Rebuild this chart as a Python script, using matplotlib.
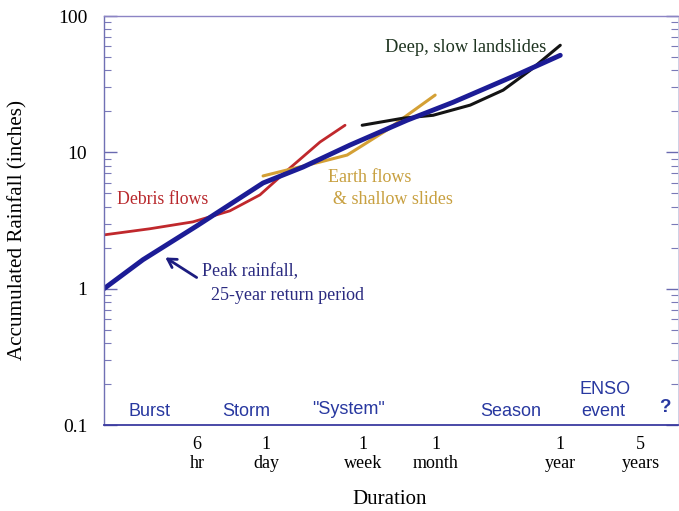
import numpy as np
import matplotlib
matplotlib.use("Agg")
import matplotlib.pyplot as plt

# durations in hours, rainfall in inches
peak_hr = [0.93, 2.03, 6.0, 13.4, 22.6, 50.4, 129, 406, 1023, 3930, 8770]
peak_in = [1.0, 1.63, 2.89, 4.48, 5.96, 7.8, 11.3, 17.2, 23.3, 38.0, 51.5]

debris_hr = [0.93, 2.33, 5.53, 11.6, 21.2, 38.8, 70.8, 117]
debris_in = [2.48, 2.75, 3.09, 3.72, 4.87, 7.68, 11.9, 15.8]

earth_hr = [22.6, 36.5, 70.8, 122, 168, 272, 406, 713]
earth_in = [6.71, 7.42, 8.49, 9.55, 11.3, 14.6, 18.7, 26.3]

deep_hr = [165, 375, 685, 1440, 2790, 4800, 8770]
deep_in = [15.8, 17.8, 18.7, 22.2, 28.6, 40.0, 61.0]

tick_hr = [6, 24, 168, 720, 8760, 43800]
tick_labels = ["6\nhr", "1\nday", "1\nweek", "1\nmonth", "1\nyear", "5\nyears"]

W, H = 679, 511
SERIF = "Liberation Serif"
SANS = "Liberation Sans"

def fp(x, y):
    # pixel -> figure fraction
    return x / W, 1 - y / H

fig = plt.figure(figsize=(6.79, 5.11), dpi=100)
ax = fig.add_axes([104 / W, 1 - 425 / H, (678 - 104) / W, (425 - 16) / H])

ax.plot(debris_hr, debris_in, color="#c0282c", lw=2.0, solid_capstyle="round")
ax.plot(earth_hr, earth_in, color="#d4a035", lw=2.2, solid_capstyle="round")
ax.plot(deep_hr, deep_in, color="#141414", lw=2.2, solid_capstyle="round")
ax.plot(peak_hr, peak_in, color="#1c1c96", lw=3.5, solid_capstyle="round")

ax.set_xscale("log")
ax.set_yscale("log")
ax.set_xlim(0.93, 93000)
ax.set_ylim(0.1, 100)

ax.set_xticks(tick_hr)
ax.set_xticklabels(tick_labels, fontfamily=SERIF, fontsize=13, linespacing=1.15)
ax.xaxis.set_minor_locator(matplotlib.ticker.NullLocator())
ax.tick_params(axis="x", length=0, pad=8)

ax.set_yticks([0.1, 1, 10, 100])
ax.set_yticklabels(["0.1", "1", "10", "100"], fontfamily=SERIF, fontsize=14)
ax.yaxis.set_minor_locator(matplotlib.ticker.LogLocator(base=10, subs=np.arange(2, 10)))
ax.yaxis.set_minor_formatter(matplotlib.ticker.NullFormatter())
ax.tick_params(axis="y", which="major", direction="in", length=9, width=1,
               color="#6a6ab0", right=True, pad=12)
ax.tick_params(axis="y", which="minor", direction="in", length=5, width=0.8,
               color="#7a7ab8", right=True)

for side, col, lw in [("left", "#7070b4", 1.0), ("top", "#8c84c4", 1.0),
                      ("bottom", "#3a3aa0", 1.3), ("right", "#c8c8e0", 0.6)]:
    ax.spines[side].set_color(col)
    ax.spines[side].set_linewidth(lw)

# curve labels
fig.text(*fp(117, 200), "Debris flows", color="#b8282c", fontfamily=SERIF,
         fontsize=12.8, va="center", ha="left")
fig.text(*fp(328, 178), "Earth flows", color="#c8a040", fontfamily=SERIF,
         fontsize=13, va="center", ha="left")
fig.text(*fp(333, 199), "& shallow slides", color="#c8a040", fontfamily=SERIF,
         fontsize=13, va="center", ha="left")
fig.text(*fp(385, 48), "Deep, slow landslides", color="#1e3420", fontfamily=SERIF,
         fontsize=13.2, va="center", ha="left")
fig.text(*fp(202, 272), "Peak rainfall,", color="#2a2a80", fontfamily=SERIF,
         fontsize=13, va="center", ha="left")
fig.text(*fp(211, 296), "25-year return period", color="#2a2a80", fontfamily=SERIF,
         fontsize=13, va="center", ha="left")
fig.add_artist(matplotlib.patches.FancyArrowPatch(
    fp(199, 279), fp(163, 256), transform=fig.transFigure,
    arrowstyle="->,head_length=6,head_width=3.5", color="#1c1c80", lw=2.0))

# time-scale labels
cat_col = "#2838a0"
for x, y, s in [(128, 411, "Burst"), (222, 411, "Storm"), (312, 410, '"System"'),
                (480, 412, "Season")]:
    fig.text(*fp(x, y), s, color=cat_col, fontfamily=SANS, fontsize=13,
             va="center", ha="left")
fig.text(*fp(605, 389), "ENSO", color=cat_col, fontfamily=SANS, fontsize=13,
         va="center", ha="center")
fig.text(*fp(603, 412), "event", color=cat_col, fontfamily=SANS, fontsize=13,
         va="center", ha="center")
fig.text(*fp(665, 407), "?", color=cat_col, fontfamily=SANS, fontsize=13.5,
         fontweight="bold", va="center", ha="center")

fig.text(*fp(390, 499), "Duration", fontfamily=SERIF, fontsize=15,
         va="center", ha="center")
fig.text(*fp(18, 230), "Accumulated Rainfall (inches)", fontfamily=SERIF,
         fontsize=15.2, va="center", ha="center", rotation=90)

fig.savefig("out.png", dpi=100)
